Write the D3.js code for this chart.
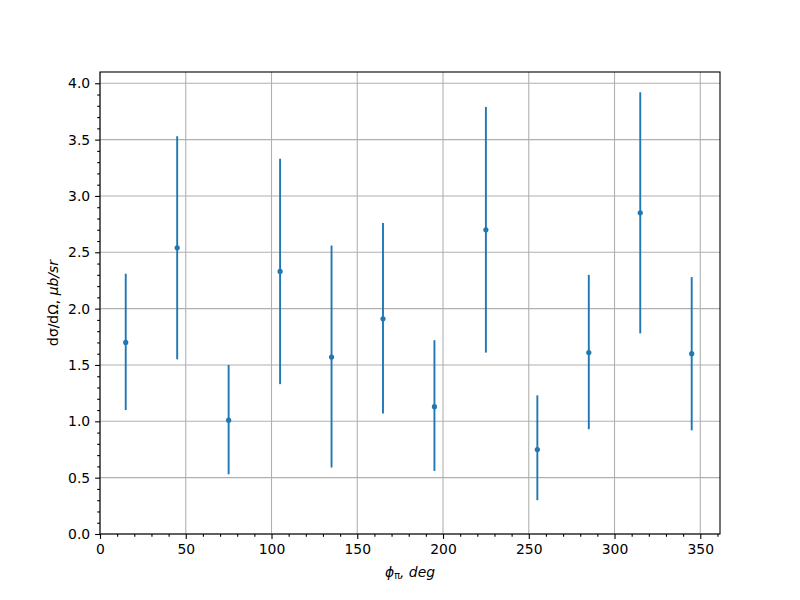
<!DOCTYPE html>
<html><head><meta charset="utf-8">
<script src="https://cdn.jsdelivr.net/npm/d3@7/dist/d3.min.js"></script>
<style>body{margin:0;background:#fff;} text{font-family:"DejaVu Sans",sans-serif;}</style>
</head><body><svg id="c" width="800" height="600"></svg>
<script>
const phi = [15, 45, 75, 105, 135, 165, 195, 225, 255, 285, 315, 345];
const xsec = [1.70, 2.54, 1.01, 2.33, 1.57, 1.91, 1.13, 2.70, 0.75, 1.61, 2.85, 1.60];
const errLow = [1.10, 1.55, 0.53, 1.33, 0.59, 1.07, 0.56, 1.61, 0.30, 0.93, 1.78, 0.92];
const errHigh = [2.31, 3.53, 1.50, 3.33, 2.56, 2.76, 1.72, 3.79, 1.23, 2.30, 3.92, 2.28];
const xTicks = [0, 50, 100, 150, 200, 250, 300, 350];
const yTicks = [0.0, 0.5, 1.0, 1.5, 2.0, 2.5, 3.0, 3.5, 4.0];

const L = 100, R = 720, T = 72, B = 534;
const svg = d3.select("#c");
const x = d3.scaleLinear().domain([0, 361.5]).range([L, R]);
const y = d3.scaleLinear().domain([0, 4.1]).range([B, T]);

// grid
const g = svg.append("g");
g.selectAll("line.gx").data(xTicks).enter().append("line")
  .attr("x1", d => x(d)).attr("x2", d => x(d)).attr("y1", T).attr("y2", B)
  .attr("stroke", "#b0b0b0").attr("stroke-width", 1.1);
g.selectAll("line.gy").data(yTicks).enter().append("line")
  .attr("y1", d => y(d)).attr("y2", d => y(d)).attr("x1", L).attr("x2", R)
  .attr("stroke", "#b0b0b0").attr("stroke-width", 1.1);

// axes
const xAxis = d3.axisBottom(x).tickValues(xTicks).tickFormat(d3.format("d")).tickSizeInner(4.9).tickSizeOuter(0).tickPadding(4.9);
const xMinor = d3.axisBottom(x).tickValues(d3.range(0, 361, 10).filter(v => v % 50 !== 0)).tickFormat("").tickSizeInner(2.8).tickSizeOuter(0);
const yAxis = d3.axisLeft(y).tickValues(yTicks).tickFormat(d3.format(".1f")).tickSizeInner(4.9).tickSizeOuter(0).tickPadding(4.9);
const yMinor = d3.axisLeft(y).tickValues(d3.range(0, 41, 1).map(v => v / 10).filter((v, i) => i % 5 !== 0)).tickFormat("").tickSizeInner(2.8).tickSizeOuter(0);

function style(sel) {
  sel.select(".domain").remove();
  sel.selectAll("line").attr("stroke", "#000").attr("stroke-width", 1.1);
  sel.selectAll("text").attr("font-size", "13.9px").attr("fill", "#000").attr("font-family", "DejaVu Sans");
}
svg.append("g").attr("transform", `translate(0,${B})`).call(xAxis).call(style);
svg.append("g").attr("transform", `translate(0,${B})`).call(xMinor).call(style);
svg.append("g").attr("transform", `translate(${L},0)`).call(yAxis).call(style);
svg.append("g").attr("transform", `translate(${L},0)`).call(yMinor).call(style);

// error bars & points
const color = "#1f77b4";
const data = phi.map((p, i) => ({p, v: xsec[i], lo: errLow[i], hi: errHigh[i]}));
svg.append("g").selectAll("line").data(data).enter().append("line")
  .attr("x1", d => x(d.p)).attr("x2", d => x(d.p))
  .attr("y1", d => y(d.lo)).attr("y2", d => y(d.hi))
  .attr("stroke", color).attr("stroke-width", 1.9);
svg.append("g").selectAll("circle").data(data).enter().append("circle")
  .attr("cx", d => x(d.p)).attr("cy", d => y(d.v)).attr("r", 2.6).attr("fill", color);

// frame
svg.append("rect").attr("x", L).attr("y", T).attr("width", R - L).attr("height", B - T)
  .attr("fill", "none").attr("stroke", "#000").attr("stroke-width", 1.1);

// labels
const xl = svg.append("text").attr("x", (L + R) / 2).attr("y", 577).attr("text-anchor", "middle")
  .attr("font-size", "13.9px");
xl.append("tspan").attr("font-style", "italic").text("ϕ");
xl.append("tspan").attr("font-size", "9.7px").attr("dy", 2).text("π");
xl.append("tspan").attr("dy", -2).attr("font-style", "italic").text(", deg");

const yl = svg.append("text").attr("transform", `translate(58,${(T + B) / 2}) rotate(-90)`)
  .attr("text-anchor", "middle").attr("font-size", "13.9px");
yl.append("tspan").text("dσ/dΩ, ");
yl.append("tspan").attr("font-style", "italic").text("μb/sr");
</script></body></html>
